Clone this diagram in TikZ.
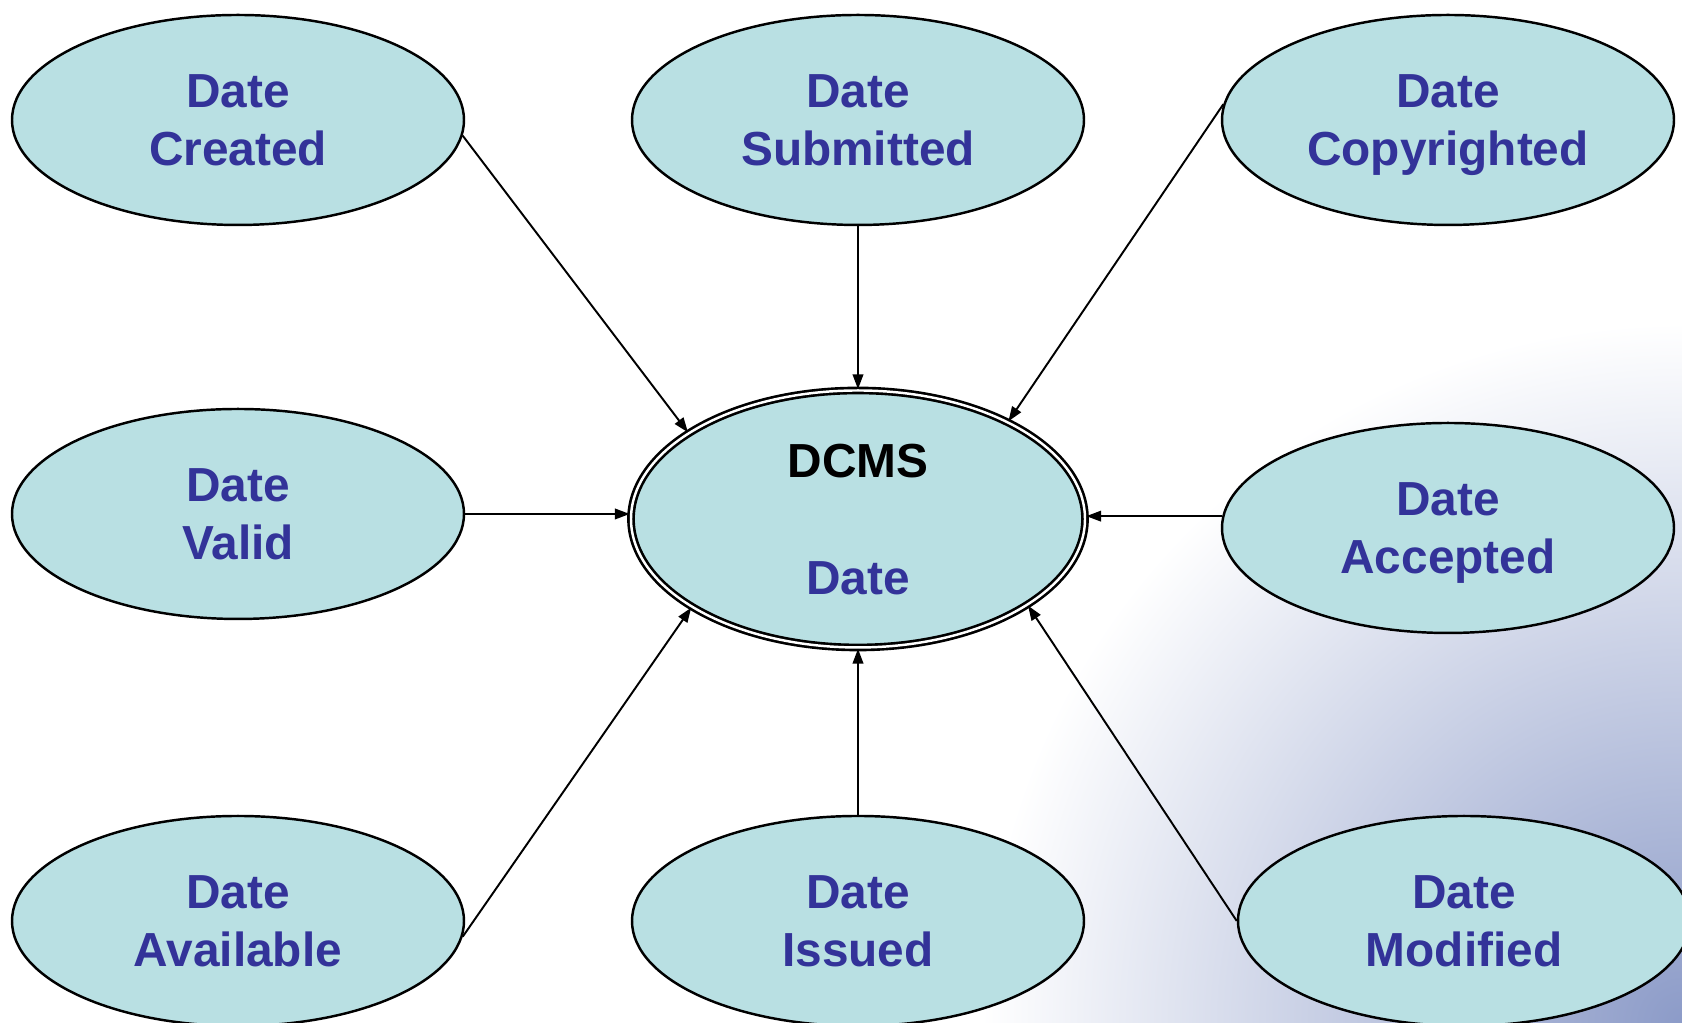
\documentclass[tikz,border=0pt]{standalone}
\usepackage{fontspec}
\setmainfont{Liberation Sans}
\usetikzlibrary{shapes.geometric, arrows.meta}
\definecolor{bubble}{HTML}{B9E0E3}
\definecolor{datetext}{HTML}{333399}
\definecolor{slideblue}{HTML}{8C9BC8}

\begin{document}
\begin{tikzpicture}[
    field/.style={ellipse, draw, line width=0.7pt, fill=bubble, minimum width=4.52cm, minimum height=2.1cm,
        inner sep=0pt, align=center, text=datetext, text depth=0pt, font=\fontsize{13.6}{16.5}\selectfont\bfseries},
    dcms/.style={field, double=white, double distance=0.7pt, line width=0.75pt, minimum width=4.54cm, minimum height=2.57cm},
    link/.style={line width=0.55pt, -{Triangle[length=4.2pt,width=3pt]}}]
    \useasboundingbox (0,0) rectangle (16.82,10.23);
    \begin{scope}
        \clip (0,0) rectangle (16.82,10.23);
        \shade[inner color=slideblue, outer color=white] (16.82,0) circle (7);
    \end{scope}
    \node[field] (created) at (2.38,9.03) {Date\\Created};
    \node[field] (submitted) at (8.58,9.03) {Date\\Submitted};
    \node[field] (copyrighted) at (14.48,9.03) {Date\\Copyrighted};
    \node[field] (valid) at (2.38,5.09) {Date\\Valid};
    \node[dcms] (dcms) at (8.58,5.04) {\textcolor{black}{DCMS}\\[0.59cm]Date};
    \node[field] (accepted) at (14.48,4.95) {Date\\Accepted};
    \node[field] (available) at (2.38,1.02) {Date\\Available};
    \node[field] (issued) at (8.58,1.02) {Date\\Issued};
    \node[field] (modified) at (14.64,1.02) {Date\\Modified};
    \draw[link] (created.-4) -- (dcms.153);
    \draw[link] (submitted.south) -- (dcms.north);
    \draw[link] (copyrighted.176) -- (dcms.33);
    \draw[link] (valid.east) -- (valid.east -| dcms.west);
    \draw[link] (accepted.177) -- (accepted.177 -| dcms.east);
    \draw[link] (available.-4) -- (dcms.208);
    \draw[link] (issued.north) -- (dcms.south);
    \draw[link] (modified.180) -- (dcms.-27);
\end{tikzpicture}
\end{document}
